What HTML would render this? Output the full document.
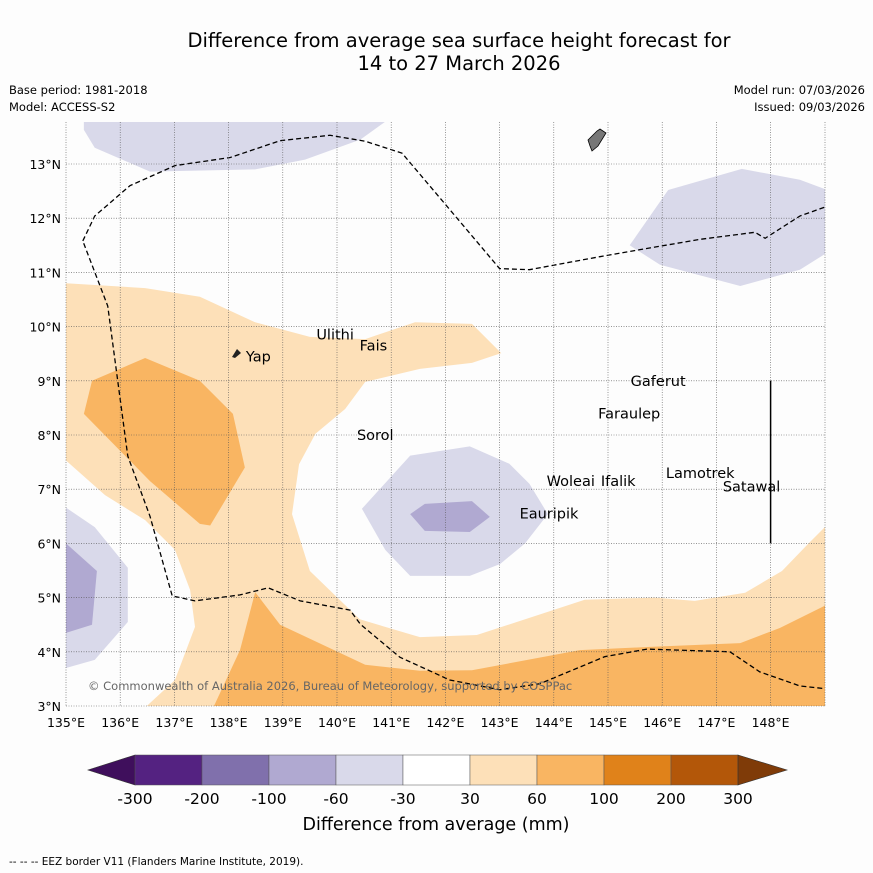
<!DOCTYPE html>
<html><head><meta charset="utf-8"><style>
body{margin:0;background:#fdfdfd;font-family:"Liberation Sans","DejaVu Sans",sans-serif}
svg{display:block}
</style></head><body>
<svg width="873" height="873" viewBox="0 0 873 873" font-family="DejaVu Sans, Liberation Sans, sans-serif">
<rect width="873" height="873" fill="#fdfdfd"/>
<text x="459" y="47" text-anchor="middle" font-size="19.5">Difference from average sea surface height forecast for</text>
<text x="459" y="70" text-anchor="middle" font-size="19.5">14 to 27 March 2026</text>
<text x="9" y="94" font-size="11.5">Base period: 1981-2018</text>
<text x="9" y="111" font-size="11.5">Model: ACCESS-S2</text>
<text x="865" y="94" font-size="11.5" text-anchor="end">Model run: 07/03/2026</text>
<text x="865" y="111" font-size="11.5" text-anchor="end">Issued: 09/03/2026</text>
<g id="map"></g>
<g id="cbar"></g>
<text x="436" y="830" text-anchor="middle" font-size="17.5">Difference from average (mm)</text>
<text x="9" y="865" font-size="10.5">--  --  -- EEZ border V11 (Flanders Marine Institute, 2019).</text>
</svg>
<script>
const lonTicks=[135,136,137,138,139,140,141,142,143,144,145,146,147,148];
const latTicks=[3,4,5,6,7,8,9,10,11,12,13];
const cbLabels=["-300","-200","-100","-60","-30","30","60","100","200","300"];
const cbColors=["#542281","#8070ac","#b0a9d1","#d9d9ea","#ffffff","#fde0b8","#f9b562","#e0821a","#b35709"];
const lightOrange=[[135,10.8],[136.46,10.71],[137.47,10.55],[138.49,10.08],[139.5,9.81],[140.52,9.77],[141.44,10.08],[142.49,10.05],[143.03,9.51],[142.49,9.33],[141.53,9.22],[140.52,8.98],[140.15,8.48],[139.6,8.02],[139.3,7.46],[139.17,6.54],[139.5,5.49],[140.42,4.6],[141.53,4.27],[142.58,4.31],[144.57,4.96],[145.86,5.0],[146.6,4.94],[147.53,5.09],[148.21,5.49],[148.69,5.99],[149.1,6.4],[149.1,3],[136.49,3],[137.01,3.48],[137.38,4.46],[137.29,5.14],[137.01,5.88],[136.46,6.43],[135.72,6.89],[135,7.53]];
const midOrange=[[137.73,3],[138.21,4.03],[138.49,5.1],[138.95,4.5],[140.52,3.76],[141.53,3.65],[142.49,3.66],[144.48,4.03],[145.77,4.09],[147.44,4.16],[148.17,4.44],[149.1,4.9],[149.1,3]];
const blobOrange=[[135.48,9.0],[136.46,9.42],[137.47,9.0],[138.08,8.39],[138.3,7.4],[137.66,6.33],[137.47,6.36],[136.55,7.15],[135.33,8.39]];
const purpTop=[[135.33,13.78],[140.89,13.78],[140.43,13.45],[139.41,13.08],[138.49,12.9],[136.55,12.86],[135.53,13.3],[135.33,13.63]];
const purpRight=[[145.4,11.5],[146.11,12.52],[147.47,12.91],[148.54,12.71],[149.1,12.5],[149.1,11.4],[148.54,11.05],[147.44,10.75],[145.96,11.14]];
const purpMid=[[140.46,6.64],[141.35,7.62],[142.45,7.79],[143.18,7.47],[143.55,7.1],[143.89,6.54],[143.47,6.0],[143.01,5.62],[142.45,5.4],[141.35,5.4],[140.89,5.88]];
const purpMidDark=[[141.35,6.54],[141.62,6.73],[142.49,6.78],[142.82,6.49],[142.45,6.21],[141.62,6.23]];
const purpLeft=[[135,6.66],[135.53,6.3],[136.14,5.55],[136.14,4.55],[135.53,3.85],[135,3.7]];
const purpLeftDark=[[135,6.0],[135.57,5.49],[135.48,4.5],[135,4.35]];
const eez1=[[149.1,3.31],[148.54,3.37],[147.8,3.63],[147.25,4.0],[145.72,4.05],[144.94,3.91],[143.74,3.41],[143.0,3.3],[142.08,3.48],[141.16,3.9],[140.43,4.51],[140.24,4.77],[139.32,4.94],[138.73,5.18],[138.21,5.05],[137.38,4.94],[136.96,5.03],[136.55,6.5],[136.14,7.61],[135.77,10.38],[135.31,11.58]];
const eez2=[[135.31,11.58],[135.53,12.04],[136.18,12.6],[137.01,12.97],[138.03,13.12],[138.95,13.43],[139.87,13.53],[140.52,13.42],[141.2,13.2],[142.08,12.16],[143.0,11.07],[143.55,11.05],[144.85,11.29],[145.59,11.42],[146.7,11.61],[147.71,11.74],[147.9,11.63],[148.54,12.04],[149.1,12.24]];
const islands=[["Ulithi",139.6,9.85],["Fais",140.4,9.65],["Yap",138.3,9.45],["Gaferut",145.4,9.0],["Faraulep",144.8,8.4],["Sorol",140.35,8.0],["Lamotrek",146.05,7.3],["Woleai",143.85,7.15],["Ifalik",144.85,7.15],["Satawal",147.1,7.05],["Eauripik",143.35,6.55]];
const X0=66,Y0=706,S=54.2;
const px=l=>X0+(l-135)*S, py=l=>Y0-(l-3)*S;
const NS="http://www.w3.org/2000/svg";
const map=document.getElementById('map');
function mk(t,a,p){const e=document.createElementNS(NS,t);for(const k in a)e.setAttribute(k,a[k]);(p||map).appendChild(e);return e;}
const cp=mk('clipPath',{id:'clip'});mk('rect',{x:66,y:122,width:759,height:584},cp);
const g=mk('g',{'clip-path':'url(#clip)'});
function poly(pts,fill,name){const e=mk('polygon',{points:pts.map(p=>px(p[0])+','+py(p[1])).join(' '),fill:fill},g);

}
poly(lightOrange,cbColors[5],'contour-30-60');
poly(midOrange,cbColors[6],'contour-60-100-south');
poly(blobOrange,cbColors[6],'contour-60-100-west');
poly(purpTop,cbColors[3],'contour-neg-north');
poly(purpRight,cbColors[3],'contour-neg-east');
poly(purpMid,cbColors[3],'contour-neg-central');
poly(purpMidDark,cbColors[2],'contour-neg100-central');
poly(purpLeft,cbColors[3],'contour-neg-west');
poly(purpLeftDark,cbColors[2],'contour-neg100-west');
lonTicks.forEach(l=>{const x=px(l);const ln=mk('line',{x1:x,x2:x,y1:122,y2:706,stroke:'#555','stroke-width':0.6,'stroke-dasharray':'1,1.5'});


const t=mk('text',{x:x,y:727,'text-anchor':'middle','font-size':12.5});t.textContent=l+'°E';

});
mk('line',{x1:825,x2:825,y1:122,y2:706,stroke:'#555','stroke-width':0.6,'stroke-dasharray':'1,1.5'});
latTicks.forEach(l=>{const y=py(l);const ln=mk('line',{x1:66,x2:825,y1:y,y2:y,stroke:'#555','stroke-width':0.6,'stroke-dasharray':'1,1.5'});


const t=mk('text',{x:61,y:y+5,'text-anchor':'end','font-size':12.5});t.textContent=l+'°N';

});
[eez1,eez2].forEach(a=>{const e=mk('polyline',{points:a.map(p=>px(p[0])+','+py(p[1])).join(' '),fill:'none',stroke:'#000','stroke-width':1.3,'stroke-dasharray':'5,3'},g);

});
islands.forEach(s=>{const t=mk('text',{x:px(s[1])+1,y:py(s[2])+5,'font-size':14.5});t.textContent=s[0];

});
const guam=mk('polygon',{points:'588,140 597,131 600,129 606,133 598,146 592,151 590,146',fill:'#777',stroke:'#000','stroke-width':0.8});


const yap=mk('polygon',{points:'232,357 237,349 241,353 235,358',fill:'#222'});


const vl=mk('line',{x1:px(148),x2:px(148),y1:py(9),y2:py(6),stroke:'#000','stroke-width':1.5});


const cr=mk('text',{x:88,y:690,'font-size':11.5,fill:'#666'});cr.textContent='© Commonwealth of Australia 2026, Bureau of Meteorology, supported by COSPPac';


const cb=document.getElementById('cbar');
const cx0=135,cw=67,cy=755,ch=30;
const lt=mk('polygon',{points:`${cx0},${cy} 88,${cy+ch/2} ${cx0},${cy+ch}`,fill:'#3f0f5c',stroke:'#333','stroke-width':0.6},cb);


cbColors.forEach((c,i)=>{const r=mk('rect',{x:cx0+i*cw,y:cy,width:cw,height:ch,fill:c,stroke:'#555','stroke-width':0.5},cb);

});
const e=cx0+cbColors.length*cw;
const rt=mk('polygon',{points:`${e},${cy} 787,${cy+ch/2} ${e},${cy+ch}`,fill:'#7f3b08',stroke:'#333','stroke-width':0.6},cb);


cbLabels.forEach((l,i)=>{const t=mk('text',{x:cx0+i*cw,y:804,'text-anchor':'middle','font-size':15.5},cb);t.textContent=l;

});
</script>
</body></html>
